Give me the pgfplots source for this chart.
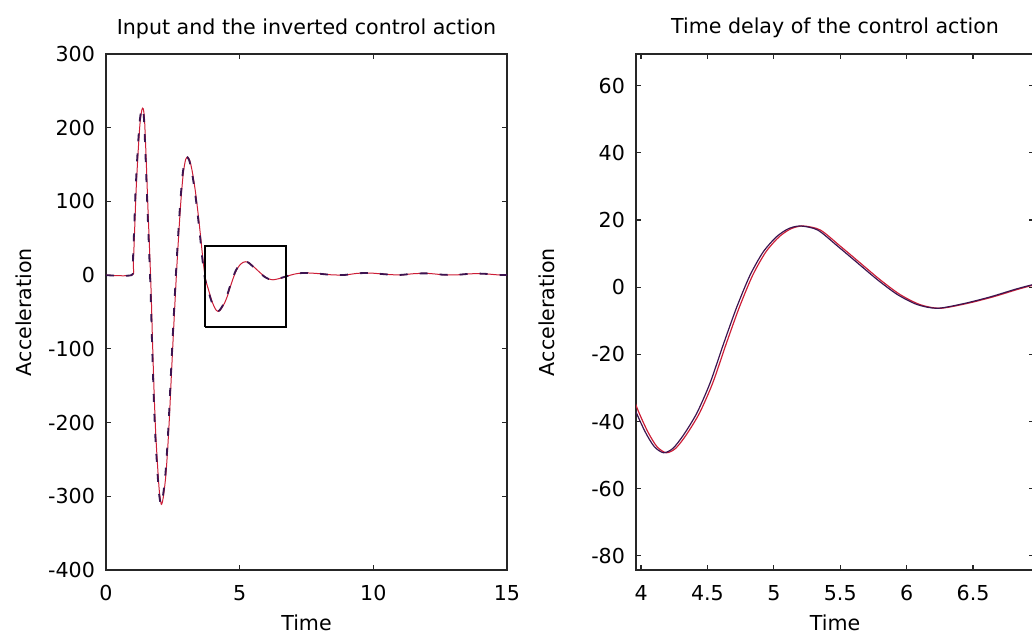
\documentclass[border=0pt]{standalone}
\usepackage{fontspec}
\setmainfont{DejaVu Sans}
\usepackage{pgfplots}
\pgfplotsset{compat=1.18}
\usepackage{pgfplotstable}

\definecolor{mred}{RGB}{205,30,55}
\definecolor{mdark}{RGB}{60,20,80}

% control action (leading curve)
\pgfplotstableread{
t v
0 0
0.95 0
1.00 15
1.05 60
1.10 110
1.17 160
1.25 205
1.32 224
1.37 226
1.42 212
1.48 160
1.55 90
1.62 25
1.67 -25
1.72 -90
1.78 -160
1.84 -215
1.92 -265
1.98 -295
2.05 -311
2.12 -302
2.21 -275
2.28 -240
2.35 -195
2.42 -140
2.50 -80
2.57 -30
2.62 5
2.70 55
2.78 100
2.87 138
2.96 157
3.04 160
3.12 155
3.22 138
3.33 112
3.43 82
3.52 52
3.61 20
3.70 -5
3.80 -18
3.88 -28
3.95 -36
4.03 -43
4.10 -47.5
4.17 -49.3
4.24 -48
4.32 -44
4.42 -37.5
4.52 -28.5
4.62 -17
4.72 -6
4.82 3.5
4.92 10.5
5.02 15
5.11 17.4
5.20 18.2
5.33 17
5.48 12.2
5.63 7.2
5.78 2.2
5.93 -2.2
6.08 -5.2
6.23 -6.3
6.43 -4.9
6.63 -2.9
6.83 -0.5
6.98 1.0
7.20 2.5
7.50 3.0
7.90 2.2
8.40 0.5
8.90 0.2
9.40 2.5
9.90 2.8
10.50 1.0
11.00 0.3
11.50 2.0
12.00 2.4
12.60 0.6
13.10 0.4
13.60 1.8
14.10 2.0
14.60 0.5
15.00 0.2
}\darkdata

% inverted input (delayed curve)
\pgfplotstableread{
t v
0 0
0.97 0
1.02 15
1.07 60
1.12 110
1.19 160
1.27 205
1.34 224
1.39 226
1.44 212
1.50 160
1.57 90
1.64 25
1.69 -25
1.74 -90
1.80 -160
1.86 -215
1.94 -265
2.00 -295
2.07 -311
2.14 -302
2.23 -275
2.30 -240
2.37 -195
2.44 -140
2.52 -80
2.59 -30
2.64 5
2.72 55
2.80 100
2.89 138
2.98 157
3.06 160
3.14 155
3.24 138
3.35 112
3.45 82
3.54 52
3.63 20
3.72 -5
3.82 -18
3.90 -28
3.97 -36
4.05 -43
4.12 -47.5
4.19 -49.3
4.26 -48
4.34 -44
4.44 -37.5
4.54 -28.5
4.64 -17
4.74 -6
4.84 3.5
4.94 10.5
5.04 15
5.13 17.4
5.22 18.2
5.35 17
5.50 12.2
5.65 7.2
5.80 2.2
5.95 -2.2
6.10 -5.2
6.25 -6.3
6.45 -4.9
6.65 -2.9
6.85 -0.5
7.00 1.0
7.22 2.5
7.52 3.0
7.92 2.2
8.42 0.5
8.92 0.2
9.42 2.5
9.92 2.8
10.52 1.0
11.02 0.3
11.52 2.0
12.02 2.4
12.62 0.6
13.12 0.4
13.62 1.8
14.12 2.0
14.62 0.5
15.00 0.2
}\reddata

\pgfplotsset{
  myaxis/.style={
    scale only axis,
    anchor=south west,
    height=258pt,
    axis line style={line width=0.8pt, black!85},
    every tick/.style={line width=0.6pt, black!85},
    major tick length=2.5pt,
    tick align=inside,
    xtick pos=both, ytick pos=both,
    font=\fontsize{10.3}{12}\selectfont,
    /pgf/number format/assume math mode=true,
    title style={at={(axis description cs:0.5,1.0155)}, anchor=base, font=\fontsize{10.3}{12}\selectfont},
    xlabel style={at={(axis description cs:0.5,-0.1163)}, anchor=base},
    ylabel style={anchor=base, rotate=0},
    xticklabel style={anchor=base, yshift=-15pt},
    yticklabel style={anchor=east, xshift=-2pt},
    xlabel={Time}, ylabel={Acceleration},
  }
}

\begin{document}
\begin{tikzpicture}
\useasboundingbox (0,0) rectangle (516pt,317pt);

\begin{axis}[myaxis,
  at={(53pt,32pt)}, width=200.5pt,
  ylabel style={at={(axis description cs:-0.185,0.5)}},
  xmin=0, xmax=15, ymin=-400, ymax=300,
  xtick={0,5,10,15},
  ytick={-400,-300,-200,-100,0,100,200,300},
  title={Input and the inverted control action},
]
\addplot[mred, line width=0.5pt, smooth, tension=0.45] table[x=t,y=v]{\reddata};
\addplot[mdark, line width=0.9pt, smooth, tension=0.45, dash pattern=on 4pt off 6pt] table[x=t,y=v]{\darkdata};
\addplot[black, line width=0.7pt] coordinates {(3.70,-70.5) (6.73,-70.5) (6.73,39.3) (3.70,39.3) (3.70,-70.5)};
\end{axis}

\begin{axis}[myaxis,
  at={(318pt,32pt)}, width=199pt,
  ylabel style={at={(axis description cs:-0.205,0.5)}},
  xmin=3.962, xmax=6.959, ymin=-84.2, ymax=69.4,
  xtick={4,4.5,5,5.5,6,6.5},
  ytick={-80,-60,-40,-20,0,20,40,60},
  title={Time delay of the control action},
]
\addplot[mred, line width=0.6pt, smooth, tension=0.45] table[x=t,y=v]{\reddata};
\addplot[mdark, line width=0.6pt, smooth, tension=0.45] table[x=t,y=v]{\darkdata};
\end{axis}
\end{tikzpicture}
\end{document}
